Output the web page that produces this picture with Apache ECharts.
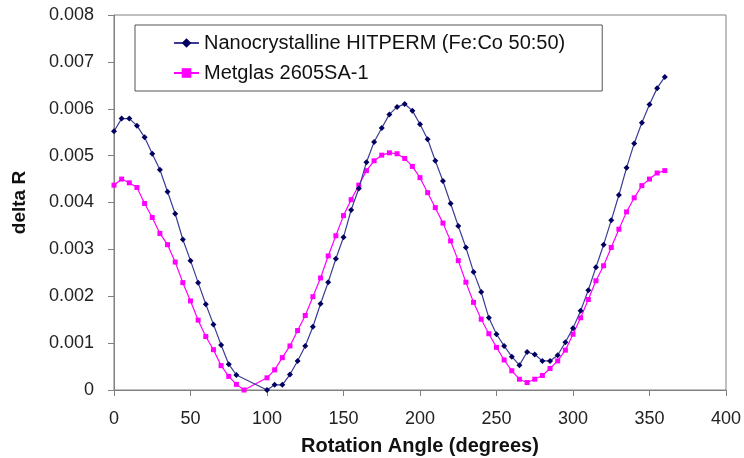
<!DOCTYPE html>
<html>
<head>
<meta charset="utf-8">
<script src="https://cdn.jsdelivr.net/npm/echarts@6/dist/echarts.min.js"></script>
<style>html,body{margin:0;padding:0;background:#fff}#c{width:744px;height:458px}</style>
</head>
<body>
<div id="c"></div>
<script>
const angles = [0,5,10,15,20,25,30,35,40,45,50,55,60,65,70,75,80,85,90,95,100,105,110,115,120,125,130,135,140,145,150,155,160,165,170,175,180,185,190,195,200,205,210,215,220,225,230,235,240,245,250,255,260,265,270,275,280,285,290,295,300,305,310,315,320,325,330,335,340,345,350,355,360];
const hitperm = [0.00552,0.00579,0.00579,0.00564,0.00539,0.00504,0.00470,0.00423,0.00376,0.00321,0.00276,0.00229,0.00183,0.00140,0.00096,0.00055,0.00032,null,null,null,0.00000,0.00011,0.00011,0.00033,0.00062,0.00094,0.00135,0.00184,0.00230,0.00280,0.00326,0.00384,0.00430,0.00486,0.00529,0.00559,0.00588,0.00604,0.00610,0.00596,0.00567,0.00535,0.00489,0.00446,0.00398,0.00350,0.00304,0.00252,0.00209,0.00154,0.00119,0.00094,0.00071,0.00053,0.00081,0.00076,0.00062,0.00062,0.00074,0.00102,0.00132,0.00169,0.00213,0.00262,0.00310,0.00362,0.00416,0.00474,0.00526,0.00570,0.00609,0.00644,0.00668];
const metglas = [0.00437,0.00450,0.00442,0.00432,0.00398,0.00368,0.00334,0.00310,0.00273,0.00229,0.00190,0.00149,0.00114,0.00086,0.00052,0.00029,0.00012,0.00000,null,null,0.00026,0.00043,0.00069,0.00094,0.00127,0.00159,0.00199,0.00239,0.00286,0.00329,0.00372,0.00406,0.00437,0.00468,0.00489,0.00501,0.00506,0.00504,0.00494,0.00477,0.00453,0.00421,0.00389,0.00356,0.00318,0.00276,0.00230,0.00187,0.00151,0.00120,0.00091,0.00064,0.00041,0.00023,0.00016,0.00023,0.00031,0.00046,0.00062,0.00085,0.00119,0.00154,0.00193,0.00233,0.00265,0.00304,0.00343,0.00380,0.00410,0.00436,0.00450,0.00463,0.00468];
const xTicks = [0,50,100,150,200,250,300,350,400];
const yTicks = [0,0.001,0.002,0.003,0.004,0.005,0.006,0.007,0.008];
const seriesNames = ['Nanocrystalline HITPERM (Fe:Co 50:50)','Metglas 2605SA-1'];

const pair = (ys) => angles.map((a, i) => [a, ys[i]]);
const chart = echarts.init(document.getElementById('c'), null, {renderer: 'canvas'});
const font = 'Arial, "Liberation Sans", sans-serif';
chart.setOption({
  animation: false,
  backgroundColor: '#fff',
  grid: {left: 114, top: 15, width: 612, height: 375, outerBoundsMode: 'none', containLabel: false,
    show: true, borderColor: '#808080', borderWidth: 1, backgroundColor: 'transparent'},
  legend: {
    orient: 'vertical', left: 135, top: 25,
    padding: [8, 37, 8, 38], itemGap: 10, itemWidth: 25, itemHeight: 12,
    borderColor: '#555', borderWidth: 1, backgroundColor: '#fff',
    textStyle: {fontFamily: font, fontSize: 20, color: '#111', lineHeight: 20},
    data: seriesNames
  },
  xAxis: {
    type: 'value', min: xTicks[0], max: xTicks[xTicks.length - 1], interval: 50,
    name: 'Rotation Angle (degrees)', nameLocation: 'middle', nameGap: 46,
    nameTextStyle: {fontFamily: font, fontSize: 20, fontWeight: 'bold', color: '#111'},
    axisLine: {show: true, lineStyle: {color: '#808080'}},
    axisTick: {show: true, length: 6, lineStyle: {color: '#808080'}},
    axisLabel: {fontFamily: font, fontSize: 18, color: '#222', margin: 20},
    splitLine: {show: false}
  },
  yAxis: {
    type: 'value', min: yTicks[0], max: yTicks[yTicks.length - 1], interval: 0.001,
    name: 'delta R', nameLocation: 'middle', nameGap: 85,
    nameTextStyle: {fontFamily: font, fontSize: 19, fontWeight: 'bold', color: '#111'},
    axisLine: {show: true, lineStyle: {color: '#808080'}},
    axisTick: {show: true, length: 6, lineStyle: {color: '#808080'}},
    axisLabel: {fontFamily: font, fontSize: 18, color: '#222', margin: 20,
      formatter: (v) => v === 0 ? '0' : v.toFixed(3)},
    splitLine: {show: false}
  },
  series: [
    {
      name: seriesNames[0], type: 'line', data: pair(hitperm), connectNulls: true,
      symbol: 'diamond', symbolSize: 6, showAllSymbol: true,
      lineStyle: {color: '#3c3c96', width: 1.2},
      itemStyle: {color: '#000060'}, z: 3
    },
    {
      name: seriesNames[1], type: 'line', data: pair(metglas), connectNulls: true,
      symbol: 'rect', symbolSize: 5, showAllSymbol: true,
      lineStyle: {color: '#ff00ff', width: 1.2},
      itemStyle: {color: '#ff00ff'}, z: 2
    }
  ]
});
</script>
</body>
</html>
